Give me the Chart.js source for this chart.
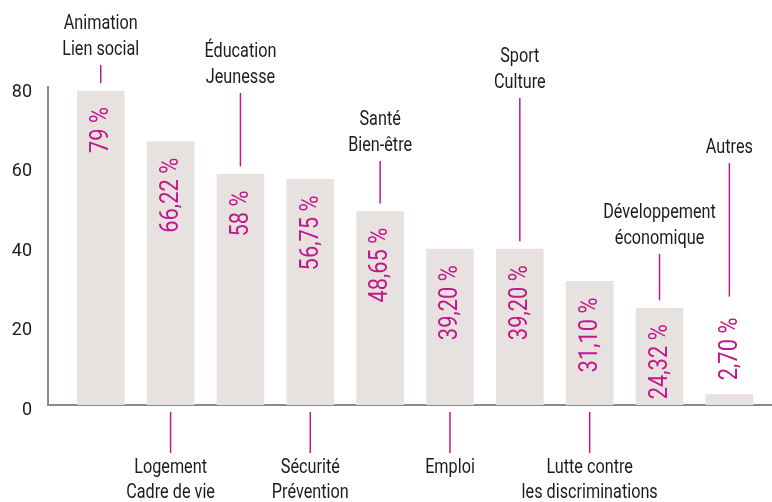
<!DOCTYPE html>
<html lang="fr">
<head>
  <meta charset="UTF-8"/>
  <title>Thématiques</title>
  <script src="https://cdn.jsdelivr.net/npm/chart.js"></script>
  <style>
    html, body { margin:0; padding:0; background:#fff; }
    .wrap { width:772px; height:502px; position:relative; }
  </style>
</head>
<body>
  <div class="wrap"><canvas id="chart" width="772" height="502"></canvas></div>
  <script>
    // --- data ---
    const categories = [
      ['Animation', 'Lien social'],
      ['Logement', 'Cadre de vie'],
      ['Éducation', 'Jeunesse'],
      ['Sécurité', 'Prévention'],
      ['Santé', 'Bien-être'],
      ['Emploi'],
      ['Sport', 'Culture'],
      ['Lutte contre', 'les discriminations'],
      ['Développement', 'économique'],
      ['Autres']
    ];
    const values = [79, 66.22, 58, 56.75, 48.65, 39.20, 39.20, 31.10, 24.32, 2.70];
    const valueLabels = ['79 %', '66,22 %', '58 %', '56,75 %', '48,65 %', '39,20 %', '39,20 %', '31,10 %', '24,32 %', '2,70 %'];
    const yTicks = [0, 20, 40, 60, 80];

    // label placement: 'top' labels sit at a given pixel line, 'bottom' ones under the axis
    const labelSide = ['top', 'bottom', 'top', 'bottom', 'top', 'bottom', 'top', 'bottom', 'top', 'top'];
    const labelTopY = [24, 0, 52, 0, 120, 0, 57, 0, 213, 148];

    const MAGENTA = '#c2198a';
    const TEXT = '#1c1c1c';
    const FONT = "Roboto, 'Noto Sans', sans-serif";

    // no condensed face installed: squeeze the text horizontally instead
    function squeeze(ctx, font, sample, target) {
      ctx.font = font;
      return target / ctx.measureText(sample).width;
    }

    const labelsPlugin = {
      id: 'labels',
      afterDatasetsDraw(chart) {
        const ctx = chart.ctx;
        const xs = chart.scales.x, ys = chart.scales.y;
        const base = ys.getPixelForValue(0);
        const valFont = '25px ' + FONT;
        const catFont = '21px ' + FONT;
        const fv = squeeze(ctx, valFont, '66,22 %', 75);
        const fc = squeeze(ctx, catFont, 'Animation', 74);
        ctx.save();
        values.forEach((v, i) => {
          const cx = xs.getPixelForValue(i);
          const top = ys.getPixelForValue(v);
          // value text, rotated
          ctx.font = valFont;
          ctx.fillStyle = MAGENTA;
          const tw = ctx.measureText(valueLabels[i]).width * fv;
          const inside = (base - top) > 40;
          let textTop;
          ctx.save();
          if (inside) {
            textTop = top + 16;
            ctx.translate(cx, textTop);
            ctx.rotate(-Math.PI / 2);
            ctx.textAlign = 'right';
          } else {
            textTop = top - 14 - tw;
            ctx.translate(cx, top - 14);
            ctx.rotate(-Math.PI / 2);
            ctx.textAlign = 'left';
          }
          ctx.scale(fv, 1);
          ctx.textBaseline = 'middle';
          ctx.fillText(valueLabels[i], 0, 1);
          ctx.restore();

          // category label + leader line
          ctx.strokeStyle = MAGENTA;
          ctx.lineWidth = 1.5;
          ctx.font = catFont;
          ctx.fillStyle = TEXT;
          ctx.textAlign = 'center';
          ctx.textBaseline = 'middle';
          const lines = categories[i];
          const put = (t, y) => {
            ctx.save();
            ctx.translate(cx, y);
            ctx.scale(fc, 1);
            ctx.fillText(t, 0, 0);
            ctx.restore();
          };
          if (labelSide[i] === 'top') {
            const y0 = labelTopY[i];
            lines.forEach((t, k) => put(t, y0 + k * 26));
            const lineStart = y0 + (lines.length - 1) * 26 + 15;
            const lineEnd = inside ? top - 8 : textTop - 21;
            ctx.beginPath();
            ctx.moveTo(cx, lineStart);
            ctx.lineTo(cx, lineEnd);
            ctx.stroke();
          } else {
            ctx.beginPath();
            ctx.moveTo(cx, base + 7);
            ctx.lineTo(cx, base + 48);
            ctx.stroke();
            lines.forEach((t, k) => put(t, base + 63 + k * 25));
          }
        });
        ctx.restore();
      }
    };

    new Chart(document.getElementById('chart').getContext('2d'), {
      type: 'bar',
      data: {
        datasets: [{
          data: values.map((v, i) => ({ x: i, y: v })),
          backgroundColor: '#e7e2e0',
          barThickness: 47,
          borderWidth: 0
        }]
      },
      options: {
        responsive: false,
        animation: false,
        layout: { padding: { top: 87, bottom: 97, right: 1, left: 0 } },
        plugins: { legend: { display: false }, tooltip: { enabled: false } },
        scales: {
          x: {
            type: 'linear',
            offset: false,
            min: -0.755,
            max: 9.596,
            grid: { display: false, drawTicks: false },
            ticks: { display: false },
            border: { display: true, color: '#8a8a8a', width: 2 },
            afterFit: s => { s.height = 0; }
          },
          y: {
            min: 0,
            max: 80,
            afterBuildTicks: s => { s.ticks = yTicks.map(v => ({ value: v })); },
            grid: { display: false, drawTicks: false },
            border: { display: true, color: '#8a8a8a', width: 2 },
            ticks: {
              color: TEXT,
              padding: 16,
              labelOffset: 5,
              font: { family: FONT, size: 18 }
            },
            afterFit: s => { s.width = 48; }
          }
        }
      },
      plugins: [labelsPlugin]
    });
  </script>
</body>
</html>
